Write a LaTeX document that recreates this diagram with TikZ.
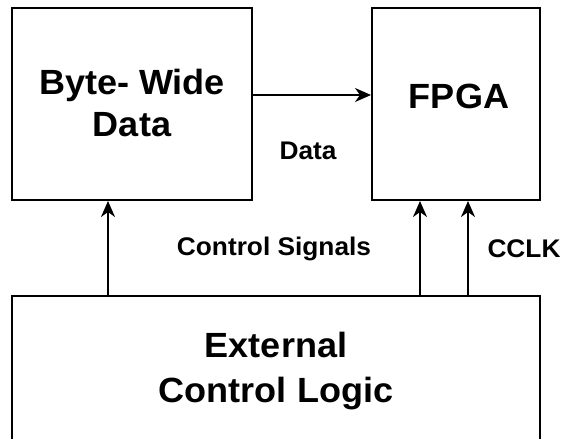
\documentclass[tikz,border=0pt]{standalone}
\usepackage{fontspec}
\setmainfont[FakeStretch=1.03]{Liberation Sans}
\usetikzlibrary{arrows.meta}
\begin{document}
\begin{tikzpicture}[x=1bp,y=-1bp,
  block/.style={draw,line width=2bp,rectangle,inner sep=0pt},
  bigtext/.style={anchor=base,inner sep=0pt,font=\fontsize{35bp}{40bp}\selectfont\bfseries},
  smalltext/.style={anchor=base,inner sep=0pt,font=\fontsize{25.5bp}{30bp}\selectfont\bfseries},
  sig/.style={line width=1.6bp,-{Stealth[length=16bp,width=14bp,inset=5bp]}}]
  \useasboundingbox (0,0) rectangle (563,439);
  \clip (0,0) rectangle (563,439);
  % blocks
  \node[block,minimum width=240bp,minimum height=192bp] (byte) at (132,104) {};
  \node[block,minimum width=168bp,minimum height=192bp] (fpga) at (456,104) {};
  \node[block,minimum width=528bp,minimum height=160bp] (ext) at (276,376) {};
  % block titles
  \node[bigtext] (byteA) at (132,95) {Byte- Wide};
  \node[bigtext] (byteB) at (132,137) {Data};
  \node[bigtext] (fpgaT) at (459,109) {FPGA};
  \node[bigtext] (extA) at (276,357) {External};
  \node[bigtext] (extB) at (276,402) {Control Logic};
  % signal labels
  \node[smalltext] (dataL) at (308,160) {Data};
  \node[smalltext] (ctrlL) at (274,256) {Control Signals};
  \node[smalltext] (cclkL) at (524,258) {CCLK};
  % signal routing
  \coordinate (dbus) at (0,95);
  \coordinate (ctl) at (108,0);
  \coordinate (cfg) at (420,0);
  \coordinate (clk) at (468,0);
  \draw[sig] (byte.east |- dbus) -- (fpga.west |- dbus);
  \draw[sig] (ext.north -| ctl) -- (byte.south -| ctl);
  \draw[sig] (ext.north -| cfg) -- (fpga.south -| cfg);
  \draw[sig] (ext.north -| clk) -- (fpga.south -| clk);
\end{tikzpicture}
\end{document}
